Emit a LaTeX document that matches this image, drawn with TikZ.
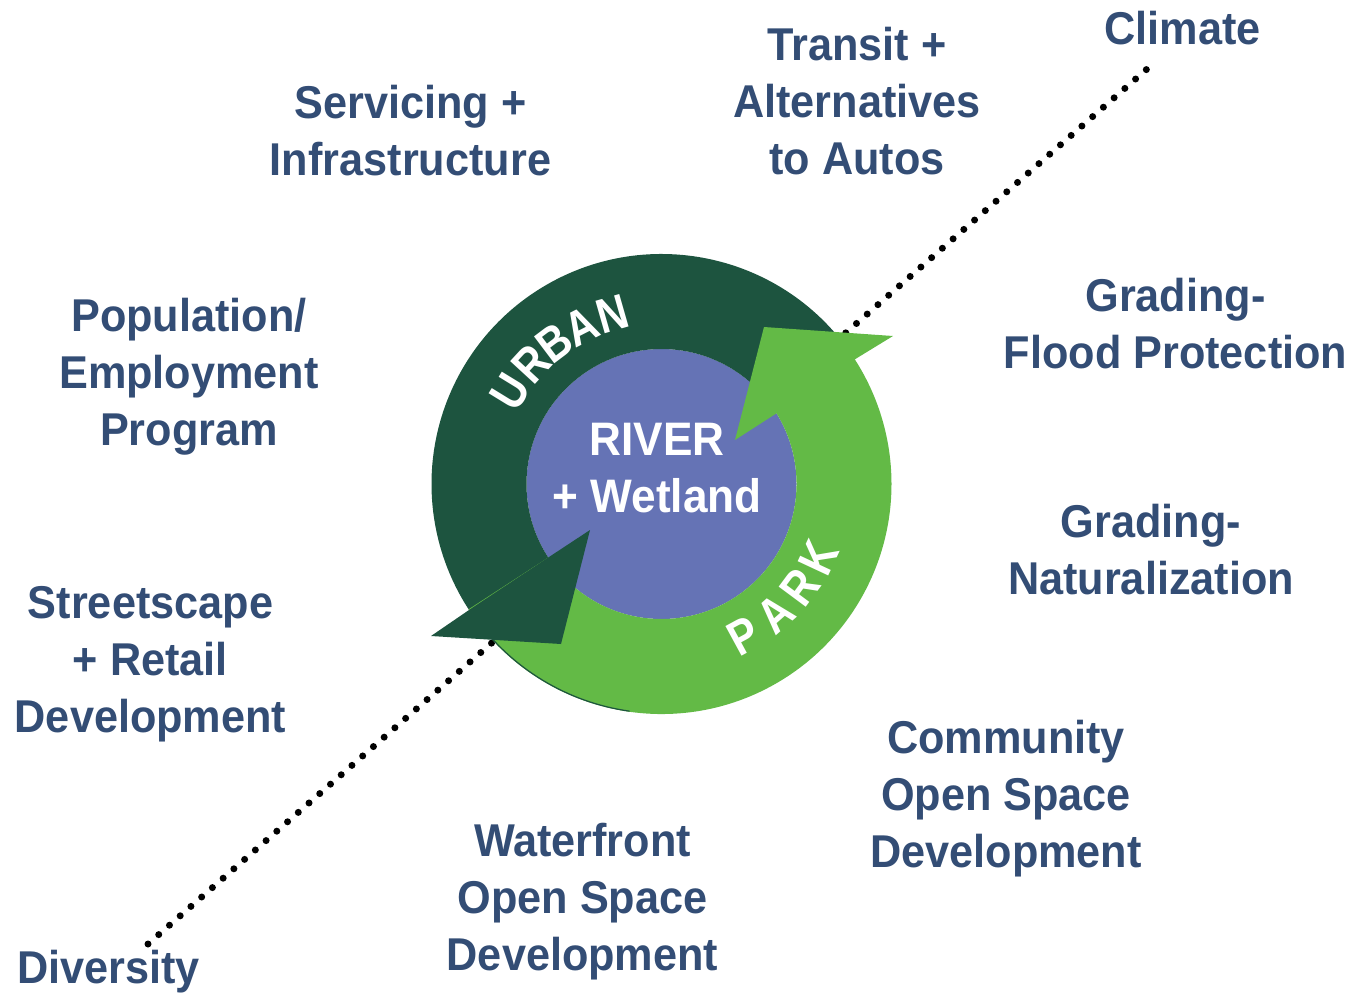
\documentclass[tikz,border=0pt]{standalone}
\usepackage{fontspec}
\setmainfont{Liberation Sans}[FakeStretch=0.94]
\newfontfamily\ringfont{Liberation Sans}[FakeStretch=0.86]
\definecolor{labelblue}{RGB}{51,77,117}
\definecolor{urbangreen}{RGB}{29,84,63}
\definecolor{parkgreen}{RGB}{99,186,70}
\definecolor{riverblue}{RGB}{101,115,181}
\tikzset{
  topic/.style={text=labelblue, font=\fontsize{46}{57}\selectfont\bfseries,
    align=center, inner sep=0pt},
  ringtext/.style={text=white, font=\ringfont\fontsize{49}{57}\selectfont\bfseries,
    inner sep=0pt},
  dotline/.style={line width=7pt, line cap=round,
    dash pattern=on 0pt off 14.27pt}
}
\begin{document}
\begin{tikzpicture}[x=1pt, y=-1pt]
  \useasboundingbox (0,0) rectangle (1352,994);
  % dotted axis behind the cycle
  \coordinate (divend) at (148,944);
  \coordinate (climend) at (1147,69);
  \draw[dotline] (divend) -- (climend);
  % rings
  \coordinate (hub) at (661.5,484);
  \begin{scope}[shift={(hub)}]
    \fill[riverblue] (0,0) circle[radius=135];
    \fill[urbangreen] (-33:230) arc[start angle=-33, end angle=-216, radius=230]
      -- (-216:135) arc[start angle=-216, end angle=-33, radius=135] -- cycle;
    \fill[parkgreen] (-213:230) arc[start angle=-213, end angle=-396, radius=230]
      -- (-396:135) arc[start angle=-396, end angle=-213, radius=135] -- cycle;
    \draw[urbangreen, line width=1.2pt] (-216:229.4) arc[start angle=-216, end angle=-262, radius=229.4];
  \end{scope}
  % arrow heads
  \fill[urbangreen] (469,610) -- (431,636) -- (561,644) -- (590,530) -- (549,557) -- cycle;
  \fill[parkgreen] (857,358) -- (893,336) -- (764,327) -- (735,440) -- (777,413) -- cycle;
  % ring words
  \begin{scope}[shift={(hub)}]
    \foreach \l/\a in {U/148.5, R/137.4, B/127, A/117, N/106}
      \node[ringtext, rotate=\a-90] at (-\a:177) {\l};
    \foreach \l/\a in {P/61.5, A/48.5, R/36.6, K/25}
      \node[ringtext, rotate=90-\a] at (\a:173) {\l};
  \end{scope}
  \node[ringtext, font=\fontsize{47}{57}\selectfont\bfseries, align=center]
    (river) at (657,468) {RIVER\\+ Wetland};
  % topics around the cycle
  \foreach \n/\p/\t in {serv/{410.5,131}/{Servicing +\\Infrastructure},
      transit/{857,101}/{Transit +\\Alternatives\\to Autos},
      climate/{1182.5,28}/{Climate},
      flood/{1175.5,324}/{Grading-\\Flood Protection},
      pop/{189,377}/{Population/\\Employment\\Program},
      natur/{1151,550}/{Grading-\\Naturalization},
      street/{150.5,664}/{Streetscape\\+ Retail\\Development},
      comm/{1006,799}/{Community\\Open Space\\Development},
      water/{582.5,902}/{Waterfront\\Open Space\\Development},
      div/{108.5,972}/{Diversity}}
    \node[topic] (\n) at (\p) {\t};
\end{tikzpicture}
\end{document}
